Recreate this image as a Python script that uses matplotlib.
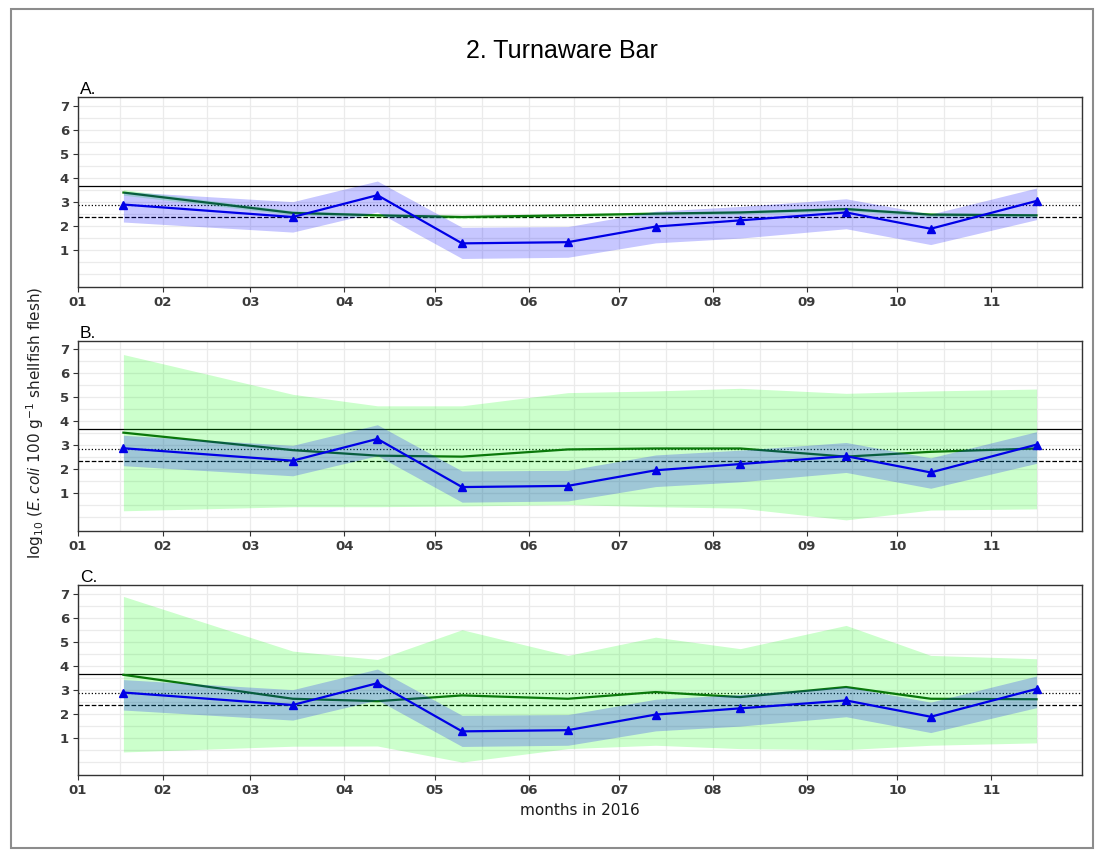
import numpy as np
import matplotlib.pyplot as plt
import matplotlib.dates as mdates
from matplotlib.patches import Rectangle

plt.rcParams['font.family'] = ['DejaVu Sans']
plt.rcParams['mathtext.fontset'] = 'dejavusans'

# sampling dates
dates = np.array(['2016-01-19', '2016-03-15', '2016-04-12', '2016-05-10', '2016-06-14',
                  '2016-07-13', '2016-08-10', '2016-09-14', '2016-10-12', '2016-11-16'],
                 dtype='datetime64[D]')

# observed log10 E.coli with interval
obs = [2.88, 2.36, 3.27, 1.26, 1.31, 1.96, 2.22, 2.55, 1.87, 3.03]
obs_lo = [2.15, 1.73, 2.57, 0.63, 0.68, 1.28, 1.48, 1.87, 1.21, 2.25]
obs_hi = [3.42, 3.00, 3.86, 1.93, 1.96, 2.60, 2.80, 3.12, 2.48, 3.57]

# model predictions for the three panels
pred_a = [3.38, 2.53, 2.43, 2.36, 2.43, 2.50, 2.55, 2.69, 2.46, 2.43]
pred_a_lo = [3.27, 2.45, 2.36, 2.29, 2.36, 2.43, 2.48, 2.61, 2.38, 2.36]
pred_a_hi = [3.50, 2.62, 2.50, 2.43, 2.50, 2.57, 2.62, 2.77, 2.54, 2.50]

pred_b = [3.53, 2.80, 2.57, 2.53, 2.83, 2.87, 2.87, 2.53, 2.73, 2.87]
pred_b_lo = [0.27, 0.44, 0.44, 0.47, 0.53, 0.44, 0.38, -0.11, 0.30, 0.35]
pred_b_hi = [6.79, 5.13, 4.65, 4.65, 5.20, 5.27, 5.38, 5.17, 5.27, 5.35]

pred_c = [3.62, 2.62, 2.52, 2.76, 2.62, 2.90, 2.69, 3.11, 2.62, 2.60]
pred_c_lo = [0.40, 0.64, 0.65, -0.02, 0.54, 0.68, 0.54, 0.50, 0.68, 0.78]
pred_c_hi = [6.89, 4.61, 4.26, 5.50, 4.43, 5.19, 4.71, 5.68, 4.43, 4.29]

# classification limits (E.coli per 100 g)
limits = [4600, 700, 230]
limit_styles = ['-', ':', '--']

month_labels = ['01', '02', '03', '04', '05', '06', '07', '08', '09', '10', '11']

x = mdates.date2num(dates)
x_start = mdates.date2num(dates[0] - np.timedelta64(15, 'D'))
x_end = mdates.date2num(dates[-1] + np.timedelta64(15, 'D'))
month_starts = mdates.date2num(np.arange('2016-02', '2016-12', dtype='datetime64[M]').astype('datetime64[D]'))
breaks = np.concatenate([[x_start], month_starts])
edges = np.append(breaks, x_end)
mids = (edges[:-1] + edges[1:]) / 2

fig = plt.figure(figsize=(11.04, 8.59), dpi=100)
fig.patches.append(Rectangle((0.010, 0.013), 0.980, 0.977, transform=fig.transFigure,
                             fill=False, edgecolor='#8c8c8c', lw=1.5))

fig.text(0.509, 0.941, '2. Turnaware Bar', ha='center', va='center', fontsize=18,
         family='Liberation Sans')
fig.text(0.032, 0.508, r'log$_{10}$ ($\it{E.coli}$ 100 g$^{-1}$ shellfish flesh)',
         rotation=90, ha='center', va='center', fontsize=11, color='#222222')

panels = [('A.', pred_a, pred_a_lo, pred_a_hi, 0.6659),
          ('B.', pred_b, pred_b_lo, pred_b_hi, 0.3822),
          ('C.', pred_c, pred_c_lo, pred_c_hi, 0.0978)]

for name, pred, lo, hi, bottom in panels:
    ax = fig.add_axes([0.0707, bottom, 0.9093, 0.2210])
    ax.set_xlim(x_start, x_end)
    ax.set_ylim(-0.56, 7.36)

    ax.set_xticks(breaks)
    ax.set_xticklabels(month_labels)
    ax.set_xticks(np.append(mids, x_end), minor=True)
    ax.set_yticks(range(1, 8))
    ax.set_yticks(np.concatenate([[0], np.arange(0.5, 7, 1)]), minor=True)
    ax.tick_params(which='major', length=3.5, width=0.8, color='#333333',
                   labelsize=9.5, labelcolor='#3a3a3a', pad=3)
    ax.tick_params(which='minor', length=0)
    for lbl in ax.get_xticklabels() + ax.get_yticklabels():
        lbl.set_fontweight('bold')
    ax.grid(which='both', color='#ebebeb', lw=0.9)
    ax.set_axisbelow(True)
    for s in ax.spines.values():
        s.set_color('#333333')
        s.set_linewidth(1.0)

    for lim, ls in zip(limits, limit_styles):
        ax.axhline(np.log10(lim), color='black', ls=ls, lw=0.9, zorder=2)

    ax.fill_between(x, lo, hi, color='#00ff00', alpha=0.2, lw=0, zorder=3)
    ax.plot(x, pred, color='#0a780a', lw=1.6, zorder=4)
    ax.fill_between(x, obs_lo, obs_hi, color='#0000ff', alpha=0.22, lw=0, zorder=5)
    ax.plot(x, obs, color='#0000e6', lw=1.6, marker='^', ms=6, zorder=6)

    ax.text(0.002, 1.017, name, transform=ax.transAxes, ha='left', va='baseline',
            fontsize=12.5, family='Liberation Sans')

ax.set_xlabel('months in 2016', fontsize=11, color='#1a1a1a', labelpad=4)

fig.savefig('out.png', dpi=100)
